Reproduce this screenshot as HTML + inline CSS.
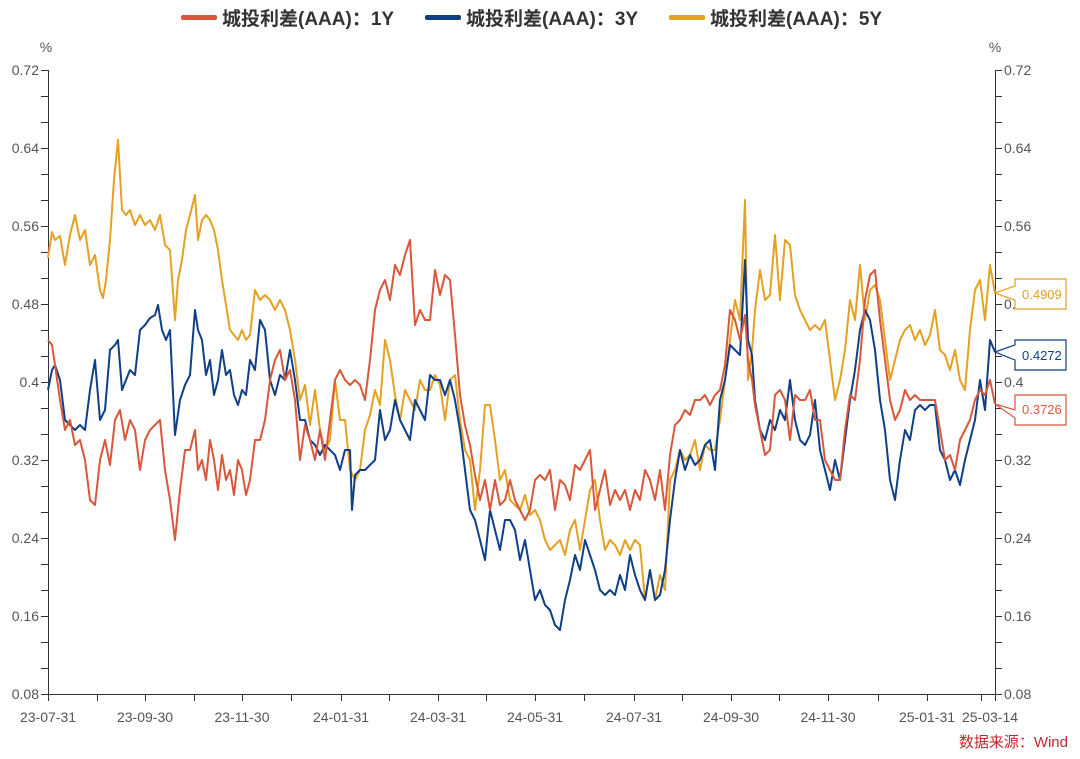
<!DOCTYPE html>
<html><head><meta charset="utf-8"><style>
body{margin:0;background:#fff}
svg text{font-family:"Liberation Sans","Noto Sans CJK SC",sans-serif}
</style></head><body>
<svg width="1080" height="754" viewBox="0 0 1080 754" xmlns="http://www.w3.org/2000/svg">
<rect width="1080" height="754" fill="#fff"/>
<rect x="181" y="15" width="36" height="5" rx="2" fill="#d9573b"/>
<text x="222" y="25" font-size="19" font-weight="bold" fill="#333" font-family="Noto Sans CJK SC, sans-serif">城投利差(AAA)：1Y</text>
<rect x="425" y="15" width="36" height="5" rx="2" fill="#0f3f87"/>
<text x="466" y="25" font-size="19" font-weight="bold" fill="#333" font-family="Noto Sans CJK SC, sans-serif">城投利差(AAA)：3Y</text>
<rect x="669" y="15" width="36" height="5" rx="2" fill="#e5a121"/>
<text x="710" y="25" font-size="19" font-weight="bold" fill="#333" font-family="Noto Sans CJK SC, sans-serif">城投利差(AAA)：5Y</text>
<g stroke="#333" stroke-width="1" fill="none">
<line x1="48.5" y1="70" x2="48.5" y2="695"/>
<line x1="995.5" y1="70" x2="995.5" y2="695"/>
<line x1="48" y1="694.5" x2="996" y2="694.5"/>
<path d="M41 70.5H48M41 96.5H48M41 122.5H48M41 148.5H48M41 174.5H48M41 200.5H48M41 226.5H48M41 252.5H48M41 278.5H48M41 304.5H48M41 330.5H48M41 356.5H48M41 382.5H48M41 408.5H48M41 434.5H48M41 460.5H48M41 486.5H48M41 512.5H48M41 538.5H48M41 564.5H48M41 590.5H48M41 616.5H48M41 642.5H48M41 668.5H48M41 694.5H48"/>
<path d="M995 70.5H1002M995 96.5H1002M995 122.5H1002M995 148.5H1002M995 174.5H1002M995 200.5H1002M995 226.5H1002M995 252.5H1002M995 278.5H1002M995 304.5H1002M995 330.5H1002M995 356.5H1002M995 382.5H1002M995 408.5H1002M995 434.5H1002M995 460.5H1002M995 486.5H1002M995 512.5H1002M995 538.5H1002M995 564.5H1002M995 590.5H1002M995 616.5H1002M995 642.5H1002M995 668.5H1002M995 694.5H1002"/>
<path d="M48.5 694V701M97.5 694V701M145.5 694V701M194.5 694V701M242.5 694V701M291.5 694V701M341.5 694V701M389.5 694V701M438.5 694V701M486.5 694V701M535.5 694V701M584.5 694V701M634.5 694V701M682.5 694V701M731.5 694V701M779.5 694V701M828.5 694V701M878.5 694V701M927.5 694V701M981.5 694V701M995.5 694V701"/>
</g>
<g font-size="14" fill="#555">
<text x="46" y="52" text-anchor="middle">%</text>
<text x="995" y="52" text-anchor="middle">%</text>
<g text-anchor="end">
<text x="39" y="75">0.72</text><text x="39" y="153">0.64</text><text x="39" y="231">0.56</text><text x="39" y="309">0.48</text><text x="39" y="387">0.4</text><text x="39" y="465">0.32</text><text x="39" y="543">0.24</text><text x="39" y="621">0.16</text><text x="39" y="699">0.08</text>
</g>
<g text-anchor="start">
<text x="1004" y="75">0.72</text><text x="1004" y="153">0.64</text><text x="1004" y="231">0.56</text><text x="1004" y="309">0.48</text><text x="1004" y="387">0.4</text><text x="1004" y="465">0.32</text><text x="1004" y="543">0.24</text><text x="1004" y="621">0.16</text><text x="1004" y="699">0.08</text>
</g>
<g text-anchor="middle">
<text x="48" y="722">23-07-31</text><text x="145" y="722">23-09-30</text><text x="242" y="722">23-11-30</text><text x="341" y="722">24-01-31</text><text x="438" y="722">24-03-31</text><text x="535" y="722">24-05-31</text><text x="634" y="722">24-07-31</text><text x="731" y="722">24-09-30</text><text x="828" y="722">24-11-30</text><text x="927" y="722">25-01-31</text><text x="990" y="722">25-03-14</text>
</g>
</g>
<text x="1068" y="747" font-size="15" fill="#c0282d" text-anchor="end" font-family="Noto Sans CJK SC, sans-serif">数据来源：Wind</text>
<g fill="none" stroke-width="2" stroke-linejoin="round">
<polyline stroke="#e5a121" points="48,258 52,232 55,240 60,236 65,265 70,235 75,215 80,240 85,230 90,265 95,255 100,290 103,298 106,280 110,240 114,180 118,140 122,210 126,215 130,210 135,225 140,215 145,225 150,220 155,230 160,215 165,245 170,250 175,320 178,280 182,260 186,230 190,215 195,195 198,240 202,220 206,215 210,220 214,230 218,250 222,280 226,305 230,330 234,335 238,340 242,330 246,340 250,335 255,290 260,300 265,295 270,300 275,310 280,300 285,310 290,330 295,360 300,400 305,385 310,425 315,390 320,430 325,450 330,440 335,380 340,420 345,420 350,470 355,480 360,470 365,430 370,415 375,390 380,405 385,340 390,360 395,395 400,420 405,390 410,400 415,410 420,380 425,390 430,390 435,375 440,385 445,420 450,380 455,375 460,420 465,450 470,460 475,510 480,470 485,405 490,405 495,440 500,480 505,470 510,500 515,505 520,510 525,495 530,515 535,510 540,520 545,540 550,550 555,545 560,540 565,555 570,530 575,520 580,550 585,520 590,490 595,480 600,520 605,550 610,540 615,545 620,555 625,540 630,550 635,540 640,545 645,600 650,570 655,600 660,575 665,590 670,480 675,470 680,450 685,460 690,455 695,440 700,470 705,445 710,450 715,450 720,420 725,380 730,340 735,300 740,320 745,200 748,380 752,350 755,310 760,270 765,300 770,295 775,235 780,300 785,240 790,245 795,295 800,310 805,320 810,330 815,325 820,330 825,320 830,360 835,400 840,380 845,350 850,300 855,320 860,265 865,320 870,290 875,285 880,300 885,340 890,380 895,360 900,340 905,330 910,325 915,340 920,330 925,345 930,335 935,310 940,350 945,355 950,370 955,350 960,380 965,390 970,330 975,290 980,280 985,320 990,265 995,293"/>
<polyline stroke="#0f3f87" points="48,390 52,370 55,365 60,380 65,420 70,425 75,430 80,425 85,430 90,390 95,360 100,420 105,410 110,350 115,345 118,340 122,390 126,380 130,370 135,375 140,330 145,325 150,318 155,315 158,305 162,330 166,340 170,330 175,435 180,400 185,385 190,375 195,310 198,330 202,340 206,375 210,360 214,395 218,380 222,350 226,375 230,370 234,395 238,405 242,390 246,395 250,360 255,370 260,320 265,330 270,380 275,395 280,375 285,380 290,350 295,380 300,420 305,420 310,440 315,445 320,455 325,445 330,450 335,455 340,470 345,450 350,450 352,510 355,475 360,470 365,470 370,465 375,460 380,410 385,440 390,430 395,400 400,420 405,430 410,440 415,400 420,410 425,420 430,375 435,380 440,380 445,395 450,380 455,400 460,430 465,470 470,510 475,520 480,540 485,560 490,510 495,530 500,550 505,520 510,520 515,530 520,560 525,540 530,570 535,600 540,590 545,605 550,610 555,625 560,630 565,600 570,580 575,555 580,570 585,540 590,555 595,570 600,590 605,595 610,590 615,595 620,575 625,590 630,555 635,575 640,590 645,600 650,570 655,600 660,595 665,570 670,520 675,480 680,450 685,470 690,455 695,465 700,460 705,445 710,440 715,470 720,400 725,380 730,345 735,350 740,355 745,260 748,340 752,355 755,400 760,430 765,440 770,420 775,430 780,410 785,420 790,380 795,420 800,440 805,445 810,435 815,400 820,450 825,470 830,490 835,460 840,480 845,440 850,400 855,370 860,330 865,310 870,320 875,350 880,400 885,430 890,480 895,500 900,460 905,430 910,440 915,410 920,405 925,410 930,405 935,405 940,450 945,460 950,480 955,470 960,485 965,460 970,440 975,420 980,380 985,410 990,340 995,352"/>
<polyline stroke="#d9573b" points="48,340 52,345 55,365 60,400 65,430 70,420 75,445 80,440 85,460 90,500 95,505 100,460 105,440 110,465 115,420 120,410 125,440 130,420 135,430 140,470 145,440 150,430 155,425 160,420 165,470 170,500 175,540 180,490 185,450 190,450 195,430 198,470 202,460 206,480 210,440 214,460 218,490 222,455 226,480 230,470 234,495 238,460 242,470 246,495 250,480 255,440 260,440 265,420 270,380 275,360 280,350 285,380 290,370 295,400 300,460 305,425 310,440 315,460 320,430 325,460 330,420 335,380 340,370 345,380 350,385 355,380 360,385 365,400 370,360 375,310 380,290 385,280 390,300 395,265 400,275 405,255 410,240 415,325 420,310 425,320 430,320 435,270 440,295 445,275 450,280 455,335 460,395 465,425 470,445 475,475 480,500 485,480 490,510 495,480 500,505 505,500 510,480 515,500 520,510 525,520 530,510 535,480 540,475 545,480 550,470 555,510 560,480 565,485 570,500 575,465 580,470 585,460 590,450 595,510 600,490 605,470 610,505 615,490 620,500 625,490 630,510 635,490 640,500 645,470 650,480 655,500 660,470 665,510 670,455 675,425 680,420 685,410 690,415 695,400 700,400 705,395 710,405 715,395 720,390 725,365 730,310 735,320 740,340 745,315 748,360 752,380 755,405 760,430 765,455 770,450 775,395 780,390 785,400 790,440 795,395 800,400 805,400 810,390 815,420 820,420 825,460 830,470 835,480 840,480 845,430 850,395 855,400 860,360 865,300 870,275 875,270 880,320 885,360 890,400 895,420 900,410 905,390 910,400 915,395 920,400 925,400 930,400 935,400 940,430 945,460 950,455 955,470 960,440 965,430 970,420 975,400 980,390 985,395 990,380 995,404"/>
</g>
<g font-size="13">
<path d="M995 293 L1015 286 V279 H1066 V309 H1015 V300 Z" fill="#fff" stroke="#e5a121" stroke-width="1.2"/>
<text x="1022" y="299" fill="#e5a121">0.4909</text>
<path d="M995 352 L1015 345 V340 H1066 V370 H1015 V360 Z" fill="#fff" stroke="#0f3f87" stroke-width="1.2"/>
<text x="1022" y="360" fill="#0f3f87">0.4272</text>
<path d="M995 404 L1015 410 V395 H1066 V425 H1015 V418 Z" fill="#fff" stroke="#d9573b" stroke-width="1.2"/>
<text x="1022" y="414" fill="#d9573b">0.3726</text>
</g>
</svg>
</body></html>
